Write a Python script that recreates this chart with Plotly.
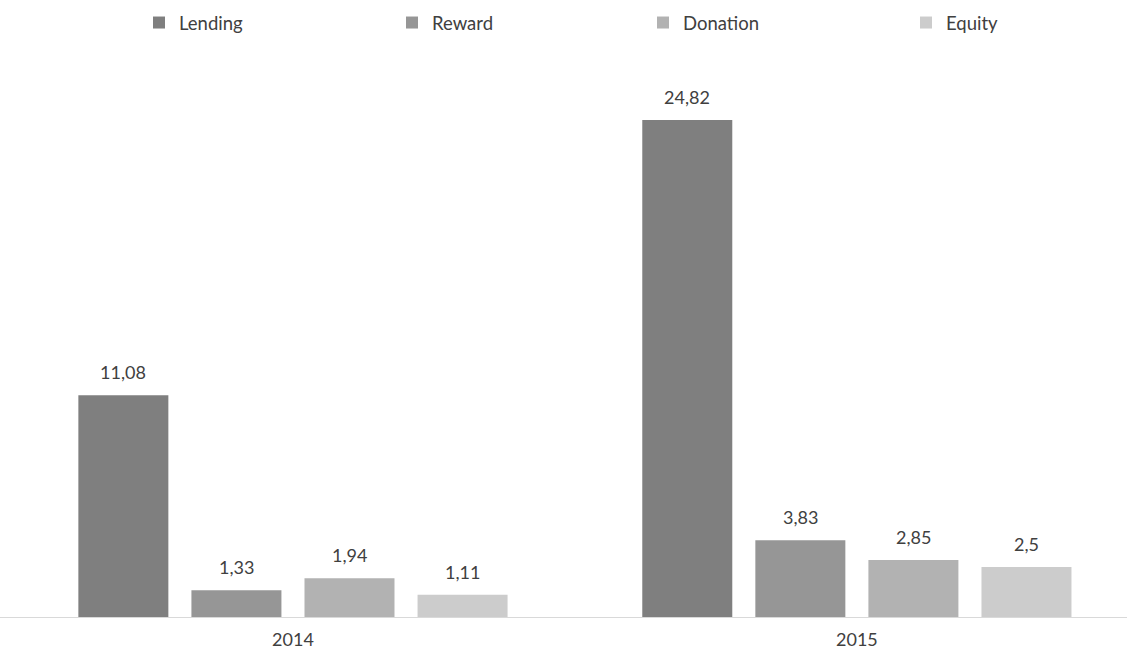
import plotly.graph_objects as go

years = ["2014", "2015"]
series_names = ["Lending", "Reward", "Donation", "Equity"]
lending = [11.08, 24.82]
reward = [1.33, 3.83]
donation = [1.94, 2.85]
equity = [1.11, 2.5]
colors = ["#7f7f7f", "#969696", "#b2b2b2", "#cccccc"]

values = [lending, reward, donation, equity]

def fmt(v):
    return ("%g" % v).replace(".", ",")

FONT = "Lato, Open Sans, sans-serif"
W, H = 1127, 651
l, r, t, b = 0, 0, 60, 34
bargap = 0.198
n = len(series_names)
legend_px = [139, 392, 643, 906]

fig = go.Figure()
legend_layouts = {}
for k, (name, vals, col) in enumerate(zip(series_names, values, colors)):
    lg = "legend" if k == 0 else "legend%d" % (k + 1)
    fig.add_trace(go.Bar(
        name=name, x=list(range(len(years))), y=vals,
        marker=dict(color=col, line=dict(width=0)),
        legend=lg, showlegend=True,
    ))
    legend_layouts[lg] = dict(
        orientation="h", x=(legend_px[k] - l) / (W - l - r), xanchor="left",
        y=1 + (t - 4) / (H - t - b), yanchor="top",
        font=dict(size=18.5, color="#404040"), itemwidth=30,
        bgcolor="rgba(0,0,0,0)", visible=True,
    )
    slot = (1 - bargap) / n
    for i, v in enumerate(vals):
        fig.add_annotation(
            x=i + (k - (n - 1) / 2) * slot, y=v, xref="x", yref="y",
            text=fmt(v), showarrow=False, yanchor="bottom", yshift=10,
            font=dict(family=FONT, size=18, color="#404040"),
        )

fig.update_layout(
    width=W, height=H, showlegend=True,
    margin=dict(l=l, r=r, t=t, b=b),
    paper_bgcolor="white", plot_bgcolor="white",
    barmode="group", bargap=bargap, bargroupgap=0.204,
    font=dict(family=FONT, color="#404040", size=18),
    xaxis=dict(range=[-0.5195, 1.479], showline=True, automargin=False,
               tickmode="array", tickvals=list(range(len(years))), ticktext=years,
               linecolor="#d9d9d9", linewidth=1, ticks="", showgrid=False,
               zeroline=False, ticklabelstandoff=6,
               tickfont=dict(size=18, color="#404040")),
    yaxis=dict(range=[0, (617 - t) / 20.02], visible=False, showgrid=False,
               zeroline=False, automargin=False),
    **legend_layouts,
)
fig.write_html("out.html")
